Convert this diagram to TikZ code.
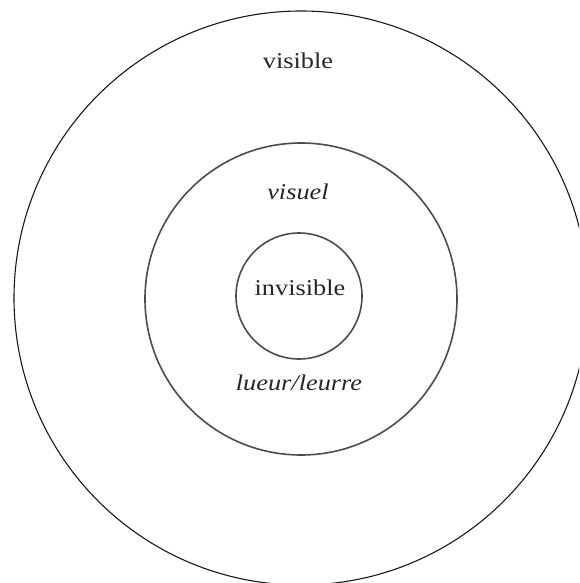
\documentclass[tikz,border=0pt]{standalone}
\usepackage{fontspec}
\setmainfont[FakeStretch=1.17]{Liberation Serif}
\begin{document}
\begin{tikzpicture}[x=1pt,y=-1pt,
  ring/.style={draw=black!70,line width=1.6pt},
  outerring/.style={draw=black!90,line width=1.1pt},
  lbl/.style={text=black!85,inner sep=0pt,anchor=base,font=\fontsize{22.5}{26}\selectfont},
  ilbl/.style={lbl,font=\fontsize{22.5}{26}\selectfont\itshape}]
\useasboundingbox (0,0) rectangle (579,583);
\begin{scope}
\clip (0,0) rectangle (579,583);
\draw[outerring] (301,298) circle[radius=287];
\end{scope}
\draw[ring] (301,299) circle[radius=156];
\draw[ring] (299,296) circle[radius=63];
\node[lbl] (visible) at (298,69) {visible};
\node[ilbl] (visuel) at (298,199) {visuel};
\node[lbl] (invisible) at (300,295) {invisible};
\node[ilbl] (lueur) at (299,390) {lueur/leurre};
\end{tikzpicture}
\end{document}
